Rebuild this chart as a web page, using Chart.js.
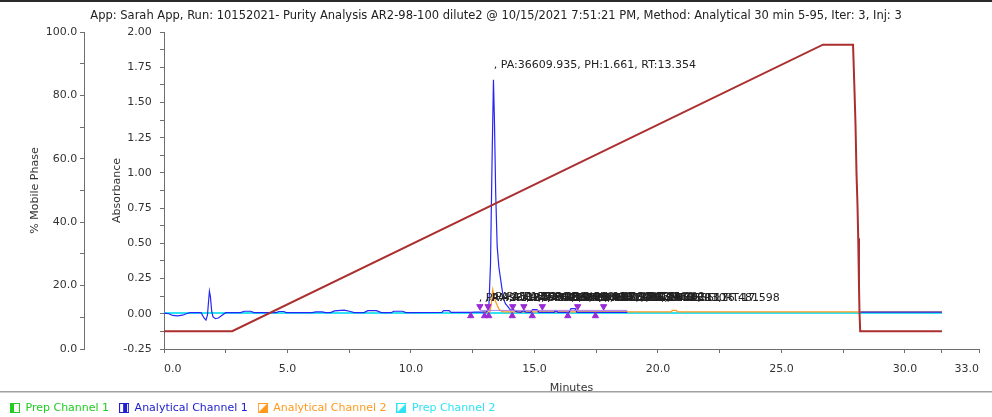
<!DOCTYPE html>
<html>
<head>
<meta charset="utf-8">
<script src="https://cdn.jsdelivr.net/npm/chart.js@4.4.1/dist/chart.umd.min.js"></script>
<style>
  html, body { margin: 0; padding: 0; background: #fff; }
  canvas { display: block; }
</style>
</head>
<body>
<canvas id="c" width="992" height="417"></canvas>
<script>
// ---------- DATA ----------
const chartTitle = 'App: Sarah App, Run: 10152021- Purity Analysis AR2-98-100 dilute2 @ 10/15/2021 7:51:21 PM, Method: Analytical 30 min 5-95, Iter: 3, Inj: 3';

// % Mobile Phase gradient (left outer axis)
const mpTime  = [0, 2.76, 26.68, 27.90, 27.96, 28.00, 28.04, 28.08, 28.11, 28.14, 28.16, 28.19, 31.5];
const mpValue = [5.6, 5.6, 96.0, 96.0, 81.2, 70.7, 55.4, 45.4, 34.9, 20.2, 11.8, 5.6, 5.6];

// Analytical Channel 1 (blue)
const ch1Time = [0, 0.20, 0.35, 0.55, 0.75, 0.90, 1.05, 1.50, 1.62, 1.70, 1.76, 1.80, 1.84, 1.88, 1.93, 1.98, 2.08, 2.20, 2.35, 2.50,
  3.10, 3.25, 3.50, 3.65, 4.55, 4.65, 4.85, 4.95, 6.00, 6.15, 6.40, 6.55, 6.75, 6.90, 7.30, 7.55, 7.70, 8.10, 8.25, 8.60, 8.80,
  9.20, 9.30, 9.65, 9.80, 11.25, 11.32, 11.55, 11.62, 12.40, 12.60, 12.90, 13.05, 13.15, 13.22, 13.28, 13.34, 13.38, 13.43, 13.49,
  13.56, 13.63, 13.70, 13.76, 13.83, 13.90, 13.97, 14.05, 14.12, 14.20, 14.30, 14.45, 14.55, 14.65, 14.85, 14.92, 15.10, 15.18,
  15.80, 15.85, 15.95, 16.40, 16.48, 16.65, 16.72, 18.76, 23.0, 28.20, 31.50];
const ch1Abs  = [0.005, 0.0, -0.012, -0.015, -0.010, 0.0, 0.008, 0.008, -0.030, -0.045, -0.010, 0.080, 0.160, 0.120, 0.020, -0.020, -0.035, -0.030, -0.010, 0.008,
  0.008, 0.018, 0.018, 0.008, 0.008, 0.016, 0.016, 0.008, 0.008, 0.014, 0.014, 0.008, 0.008, 0.020, 0.026, 0.016, 0.008, 0.008, 0.022, 0.022, 0.008,
  0.008, 0.018, 0.018, 0.008, 0.010, 0.022, 0.022, 0.010, 0.010, 0.012, 0.012, 0.014, 0.030, 0.350, 1.050, 1.661, 1.370, 0.860, 0.480,
  0.330, 0.245, 0.160, 0.100, 0.070, 0.056, 0.040, 0.022, 0.035, 0.022, 0.014, 0.010, 0.022, 0.012, 0.010, 0.030, 0.030, 0.010,
  0.010, 0.022, 0.010, 0.010, 0.036, 0.036, 0.010, 0.010, null, 0.012, 0.012];

// Analytical Channel 2 (orange)
const ch2Time = [12.90, 13.20, 13.26, 13.31, 13.36, 13.42, 13.49, 13.56, 13.63, 13.75, 20.55, 20.58, 20.75, 20.78, 31.50];
const ch2Abs  = [0.012, 0.014, 0.080, 0.171, 0.130, 0.090, 0.060, 0.035, 0.022, 0.014, 0.014, 0.024, 0.024, 0.014, 0.014];

// Prep Channel 1 (green) and Prep Channel 2 (cyan)
const prep1Time = [0, 31.5];
const prep1Abs  = [0.005, 0.005];
const prep2Time = [0, 31.5];
const prep2Abs  = [0.005, 0.005];

// Integration baseline (purple) and peak start / end markers
const baseTime = [12.80, 18.76];
const baseAbs  = [0.024, 0.024];
const startMarkTime = [12.42, 12.98, 13.15, 14.10, 14.91, 16.35, 17.47];
const startMarkAbs  = [-0.015, -0.015, -0.015, -0.015, -0.015, -0.015, -0.015];
const endMarkTime   = [12.79, 13.12, 14.12, 14.57, 15.32, 16.75, 17.80];
const endMarkAbs    = [0.052, 0.052, 0.052, 0.052, 0.052, 0.052, 0.052];

// Peak annotations
const peakRT = [13.354, 12.741, 12.985, 13.125, 13.582, 13.964, 14.292, 14.655, 15.130, 15.517, 16.481, 17.598];
const peakPA = [36609.935, 42.118, 96.307, 151.662, 1137.004, 246.093, 565.258, 73.415, 120.876, 88.529, 210.341, 45.115];
const peakPH = [1.661, 0.004, 0.006, 0.012, 0.010, 0.007, 0.009, 0.003, 0.005, 0.004, 0.006, 0.003];

// Axis ticks
const xTickValues  = [0, 2.5, 5, 7.5, 10, 12.5, 15, 17.5, 20, 22.5, 25, 27.5, 30, 31.5, 33];
const xLabelValues = [0, 5, 10, 15, 20, 25, 30, 33];

// Legend
const legendNames  = ['Prep Channel 1', 'Analytical Channel 1', 'Analytical Channel 2', 'Prep Channel 2'];

// ---------- STYLE ----------
const FONT = "'DejaVu Sans', Verdana, sans-serif";
const C_RED = '#ab2f2f', C_BLUE = '#2626f5', C_ORANGE = '#ff9a1f', C_CYAN = '#2fe3f2', C_GREEN = '#22cc22', C_PURPLE = '#9a2bd6';
const AXIS = '#6e6e6e', TXT = '#333333';

const pts = (xs, ys) => xs.map((x, i) => ({ x: x, y: ys[i] }));

function makeIcon(color, kind) {
  const c = document.createElement('canvas');
  c.width = 10; c.height = 10;
  const g = c.getContext('2d');
  g.strokeStyle = color; g.fillStyle = color; g.lineWidth = 1;
  g.strokeRect(0.5, 0.5, 9, 9);
  if (kind === 'left') g.fillRect(0, 0, 4, 10);
  else if (kind === 'mid') g.fillRect(4, 0, 4, 10);
  else { g.beginPath(); g.moveTo(0, 10); g.lineTo(10, 0); g.lineTo(10, 10); g.closePath(); g.fill(); }
  return c;
}

const legendColors = [C_GREEN, '#2020d0', C_ORANGE, C_CYAN];
const legendKinds = ['left', 'mid', 'diag', 'diag'];

const lineDs = (label, data, color, width, yAxisID, order) => ({
  label, data, borderColor: color, backgroundColor: color, borderWidth: width,
  pointRadius: 0, tension: 0, yAxisID, order, fill: false
});

const datasets = [
  lineDs('% Mobile Phase', pts(mpTime, mpValue), C_RED, 2, 'mp', 1),
  lineDs('Analytical Channel 1', pts(ch1Time, ch1Abs), C_BLUE, 1.2, 'abs', 3),
  lineDs('Analytical Channel 2', pts(ch2Time, ch2Abs), C_ORANGE, 1.3, 'abs', 4),
  lineDs('Prep Channel 2', pts(prep2Time, prep2Abs), C_CYAN, 2, 'abs', 5),
  lineDs('Prep Channel 1', pts(prep1Time, prep1Abs), C_GREEN, 2, 'abs', 6),
  lineDs('Baseline', pts(baseTime, baseAbs), '#b27ee6', 1, 'abs', 2),
  { label: 'Peak start', data: pts(startMarkTime, startMarkAbs), showLine: false, pointStyle: 'triangle',
    pointRadius: 3.6, pointRotation: 0, backgroundColor: C_PURPLE, borderColor: C_PURPLE, borderWidth: 1, yAxisID: 'abs', order: 0 },
  { label: 'Peak end', data: pts(endMarkTime, endMarkAbs), showLine: false, pointStyle: 'triangle',
    pointRadius: 3.6, pointRotation: 180, backgroundColor: C_PURPLE, borderColor: C_PURPLE, borderWidth: 1, yAxisID: 'abs', order: 0 }
];

const peakLabelPlugin = {
  id: 'peakLabels',
  afterDatasetsDraw(chart) {
    const ctx = chart.ctx, xs = chart.scales.x, ys = chart.scales.abs;
    ctx.save();
    ctx.font = '11px ' + FONT;
    ctx.fillStyle = '#222';
    ctx.textAlign = 'left';
    ctx.textBaseline = 'middle';
    for (let i = peakRT.length - 1; i >= 0; i--) {
      const txt = ', PA:' + peakPA[i].toFixed(3) + ', PH:' + peakPH[i].toFixed(3) + ', RT:' + peakRT[i].toFixed(3);
      ctx.fillText(txt, xs.getPixelForValue(peakRT[i]), ys.getPixelForValue(peakPH[i]) - 15);
    }
    ctx.restore();
  }
};

const framePlugin = {
  id: 'frame',
  beforeDraw(chart) {
    const ctx = chart.ctx;
    ctx.save();
    ctx.fillStyle = '#fff';
    ctx.fillRect(0, 0, chart.width, chart.height);
    ctx.fillStyle = '#2a2a2a';
    ctx.fillRect(0, 0, chart.width, 2);
    ctx.fillStyle = '#a0a0a0';
    ctx.fillRect(0, 391, chart.width, 1.5);
    ctx.restore();
  }
};

Chart.defaults.font.family = FONT;
Chart.defaults.font.size = 11;
Chart.defaults.color = TXT;

new Chart(document.getElementById('c'), {
  type: 'line',
  data: { datasets },
  options: {
    responsive: false,
    animation: false,
    devicePixelRatio: 1,
    layout: { padding: { left: 0, right: 0, top: 0, bottom: 0 } },
    plugins: {
      title: { display: true, text: chartTitle, color: '#222', font: { size: 11.5, weight: 'normal' }, padding: { top: 9.1, bottom: 9.1 } },
      legend: {
        display: true, position: 'bottom', align: 'start', maxHeight: 24.5,
        labels: {
          usePointStyle: true, boxWidth: 10, boxHeight: 10, padding: 10,
          font: { size: 11 },
          generateLabels: () => legendNames.map((n, i) => ({
            text: n, fontColor: legendColors[i], fillStyle: legendColors[i], strokeStyle: legendColors[i],
            pointStyle: makeIcon(legendColors[i], legendKinds[i]), lineWidth: 0, hidden: false, datasetIndex: i
          }))
        },
        onClick: () => {}
      },
      tooltip: { enabled: false }
    },
    scales: {
      x: {
        type: 'linear', position: 'bottom', min: 0, max: 33,
        afterBuildTicks: (s) => { s.ticks = xTickValues.map(v => ({ value: v })); },
        afterFit: (s) => { s.height = 43.5; },
        ticks: {
          autoSkip: false, maxRotation: 0, align: 'inner', padding: 9.4, color: TXT,
          callback: (v) => xLabelValues.includes(v) ? v.toFixed(1) : ''
        },
        grid: { display: true, drawOnChartArea: false, drawTicks: true, tickLength: 4, color: AXIS },
        border: { display: true, color: AXIS, width: 1 },
        title: { display: true, text: 'Minutes', color: TXT, font: { size: 11 }, padding: { top: 0, bottom: -2 } }
      },
      mp: {
        type: 'linear', position: 'left', weight: 2, min: 0, max: 100,
        afterFit: (s) => { s.width = 84; },
        ticks: {
          stepSize: 10, autoSkip: false, padding: 2.7, color: TXT,
          callback: (v) => (Math.round(v) % 20 === 0) ? v.toFixed(1) : ''
        },
        grid: { display: true, drawOnChartArea: false, drawTicks: true, tickLength: 4, color: AXIS },
        border: { display: true, color: AXIS, width: 1 },
        title: { display: true, text: '% Mobile Phase', color: TXT, font: { size: 11 }, padding: { top: 28.4, bottom: 0 } }
      },
      abs: {
        type: 'linear', position: 'left', weight: 1, min: -0.25, max: 2.0,
        afterFit: (s) => { s.width = 80; },
        ticks: {
          stepSize: 0.125, autoSkip: false, padding: 8.3, color: TXT,
          callback: (v) => (Math.abs(v * 4 - Math.round(v * 4)) < 1e-6) ? v.toFixed(2) : ''
        },
        grid: { display: true, drawOnChartArea: false, drawTicks: true, tickLength: 4, color: AXIS },
        border: { display: true, color: AXIS, width: 1 },
        title: { display: true, text: 'Absorbance', color: TXT, font: { size: 11 }, padding: { top: 26.4, bottom: 0 } }
      },
      rightPad: {
        type: 'linear', position: 'right', display: true, min: 0, max: 1,
        afterFit: (s) => { s.width = 13; },
        ticks: { display: false },
        grid: { display: false, drawTicks: false },
        border: { display: false },
        title: { display: false }
      }
    }
  },
  plugins: [framePlugin, peakLabelPlugin]
});
</script>
</body>
</html>
